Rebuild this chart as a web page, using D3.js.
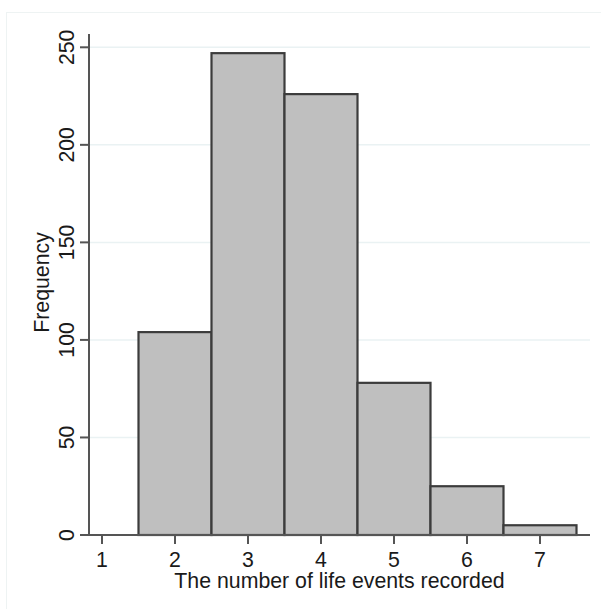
<!DOCTYPE html>
<html><head><meta charset="utf-8">
<script src="https://cdn.jsdelivr.net/npm/d3@7"></script>
<style>html,body{margin:0;padding:0;background:#fff;}svg{display:block;}</style>
</head><body>
<script>
const categories = [2, 3, 4, 5, 6, 7];
const frequencies = [104, 247, 226, 78, 25, 5];
const xTicks = [1, 2, 3, 4, 5, 6, 7];
const yTicks = [0, 50, 100, 150, 200, 250];
const xTitle = "The number of life events recorded";
const yTitle = "Frequency";

(function () {
const W = 601, H = 609;
const svg = d3.select("body").append("svg").attr("width", W).attr("height", H);

// outer faint frame
svg.append("rect").attr("x", 6.5).attr("y", 12.5).attr("width", 620).attr("height", 620)
  .attr("fill", "none").attr("stroke", "#eef3f3").attr("stroke-width", 1);

const pLeft = 89, pRight = 590, pBottom = 535, pTop = 34;
const x = d3.scaleLinear().domain([1, 7]).range([102, 540]);
const y = d3.scaleLinear().domain([0, 250]).range([pBottom, 47.3]);

// gridlines
svg.append("g").selectAll("line").data(yTicks.filter(d => d > 0)).join("line")
  .attr("x1", pLeft).attr("x2", pRight)
  .attr("y1", d => y(d)).attr("y2", d => y(d))
  .attr("stroke", "#eaf2f3").attr("stroke-width", 1.5);

// bars
svg.append("g").selectAll("rect").data(categories).join("rect")
  .attr("x", (d) => x(d - 0.5))
  .attr("width", (d) => x(d + 0.5) - x(d - 0.5))
  .attr("y", (d, i) => y(frequencies[i]))
  .attr("height", (d, i) => y(0) - y(frequencies[i]))
  .attr("fill", "#bfbfbf").attr("stroke", "#3c3c3c").attr("stroke-width", 2.2);

const font = "'Liberation Sans', Arial, sans-serif";
const textColor = "#1a1a1a";
const fs = 21.3;

// y axis
svg.append("line").attr("x1", pLeft).attr("x2", pLeft).attr("y1", pTop).attr("y2", pBottom + 1)
  .attr("stroke", "#555").attr("stroke-width", 2);
const yt = svg.append("g");
yt.selectAll("line").data(yTicks).join("line")
  .attr("x1", pLeft - 9).attr("x2", pLeft)
  .attr("y1", d => y(d)).attr("y2", d => y(d))
  .attr("stroke", "#555").attr("stroke-width", 2);
yt.selectAll("text").data(yTicks).join("text")
  .attr("transform", d => `translate(74,${y(d)}) rotate(-90)`)
  .attr("text-anchor", "middle")
  .attr("font-family", font).attr("font-size", fs).attr("fill", textColor)
  .text(d => d);

// x axis
svg.append("line").attr("x1", pLeft).attr("x2", pRight).attr("y1", pBottom).attr("y2", pBottom)
  .attr("stroke", "#555").attr("stroke-width", 2);
const xt = svg.append("g");
xt.selectAll("line").data(xTicks).join("line")
  .attr("x1", d => x(d)).attr("x2", d => x(d))
  .attr("y1", pBottom).attr("y2", pBottom + 9)
  .attr("stroke", "#555").attr("stroke-width", 2);
xt.selectAll("text").data(xTicks).join("text")
  .attr("x", d => x(d)).attr("y", 567)
  .attr("text-anchor", "middle")
  .attr("font-family", font).attr("font-size", fs).attr("fill", textColor)
  .text(d => d);

// titles
svg.append("text").attr("x", (pLeft + pRight) / 2).attr("y", 588)
  .attr("text-anchor", "middle")
  .attr("font-family", font).attr("font-size", fs).attr("fill", textColor)
  .text(xTitle);
svg.append("text").attr("transform", `translate(48.5,${(pTop + pBottom) / 2 - 2}) rotate(-90)`)
  .attr("text-anchor", "middle")
  .attr("font-family", font).attr("font-size", fs).attr("fill", textColor)
  .text(yTitle);
})();
</script>
</body></html>
